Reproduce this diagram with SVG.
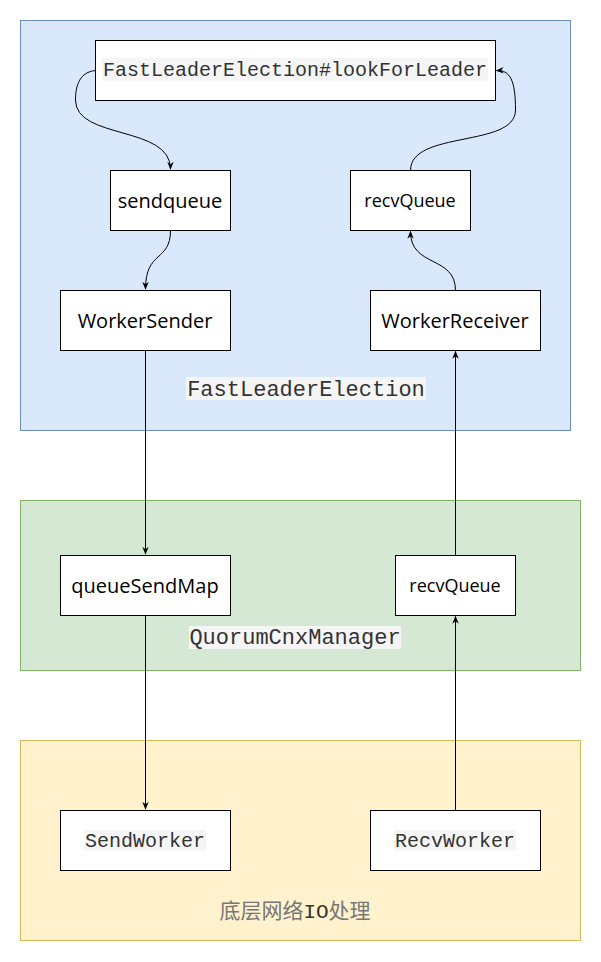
<svg xmlns="http://www.w3.org/2000/svg" width="601" height="962" viewBox="0 0 601 962">
<defs>
<marker id="arr" viewBox="0 0 10 10" refX="9" refY="5" markerWidth="8" markerHeight="8" markerUnits="userSpaceOnUse" orient="auto">
<path d="M0,1 L10,5 L0,9 L3,5 Z" fill="#000"/>
</marker>
<style>
.box{fill:#fff;stroke:#000;stroke-width:1}
.t{font-family:"Open Sans","Noto Sans",sans-serif;font-size:20px;fill:#000;text-anchor:middle}
.ts{font-family:"Open Sans","Noto Sans",sans-serif;font-size:18px;fill:#000;text-anchor:middle}
.m{font-family:"Liberation Mono","DejaVu Sans Mono",monospace;fill:#333;text-anchor:middle}
.hl{fill:#f5f5f5}
.e{fill:none;stroke:#000;stroke-width:1;marker-end:url(#arr)}
</style>
</defs>
<rect width="601" height="962" fill="#fff"/>
<g id="containers">
<rect x="20.5" y="20.5" width="550" height="410" fill="#dae8fc" stroke="#6c8ebf"/>
<rect x="20.5" y="500.5" width="560" height="170" fill="#d5e8d4" stroke="#82b366"/>
<rect x="20.5" y="740.5" width="560" height="200" fill="#fff2cc" stroke="#d6b656"/>
</g>
<g id="label-fle">
<rect class="hl" x="186" y="377" width="240" height="23"/>
<text class="m" x="306" y="396" font-size="22">FastLeaderElection</text>
</g>
<g id="label-qcm">
<rect class="hl" x="189" y="626" width="212" height="23"/>
<text class="m" x="295" y="644" font-size="22">QuorumCnxManager</text>
</g>
<g id="label-io">
<text x="295" y="918" text-anchor="middle" font-size="21" fill="#777" font-family="'Noto Sans CJK SC',sans-serif">底层网络<tspan fill="#333" font-family="'Liberation Mono',monospace">IO</tspan>处理</text>
</g>
<g id="lookForLeader">
<rect class="box" x="95.5" y="40.5" width="400" height="60"/>
<rect class="hl" x="102" y="58" width="386" height="23"/>
<text class="m" x="295" y="76" font-size="20">FastLeaderElection#lookForLeader</text>
</g>
<g id="sendqueue">
<rect class="box" x="110.5" y="170.5" width="120" height="60"/>
<text class="t" x="170" y="208">sendqueue</text>
</g>
<g id="recvQueue1">
<rect class="box" x="350.5" y="170.5" width="120" height="60"/>
<text class="ts" x="410" y="207">recvQueue</text>
</g>
<g id="WorkerSender">
<rect class="box" x="60.5" y="290.5" width="170" height="60"/>
<text class="t" x="145" y="328">WorkerSender</text>
</g>
<g id="WorkerReceiver">
<rect class="box" x="370.5" y="290.5" width="170" height="60"/>
<text class="t" x="455" y="328">WorkerReceiver</text>
</g>
<g id="queueSendMap">
<rect class="box" x="60.5" y="555.5" width="170" height="60"/>
<text class="t" x="145" y="593">queueSendMap</text>
</g>
<g id="recvQueue2">
<rect class="box" x="395.5" y="555.5" width="120" height="60"/>
<text class="ts" x="455" y="592">recvQueue</text>
</g>
<g id="SendWorker">
<rect class="box" x="60.5" y="810.5" width="170" height="60"/>
<rect class="hl" x="84" y="830" width="122" height="21"/>
<text class="m" x="145" y="847" font-size="20">SendWorker</text>
</g>
<g id="RecvWorker">
<rect class="box" x="370.5" y="810.5" width="170" height="60"/>
<rect class="hl" x="394" y="830" width="122" height="21"/>
<text class="m" x="455" y="847" font-size="20">RecvWorker</text>
</g>
<g id="connectors">
<path class="e" d="M95.5,70.5 C80,72 75.5,85 75.5,100 C75.5,140 170.5,125 170.5,169"/>
<path class="e" d="M410.5,170.5 C410.5,130 515.5,148 515.5,110 C515.5,80 510,70 496.5,70.5"/>
<path class="e" d="M170.5,230.5 C170.5,262 145.5,250 145.5,289"/>
<path class="e" d="M455.5,290.5 C455.5,255 410.5,268 410.5,231.5"/>
<path class="e" d="M145.5,350.5 L145.5,554"/>
<path class="e" d="M455.5,555.5 L455.5,351.5"/>
<path class="e" d="M145.5,615.5 L145.5,809"/>
<path class="e" d="M455.5,810.5 L455.5,616.5"/>
</g>
</svg>
